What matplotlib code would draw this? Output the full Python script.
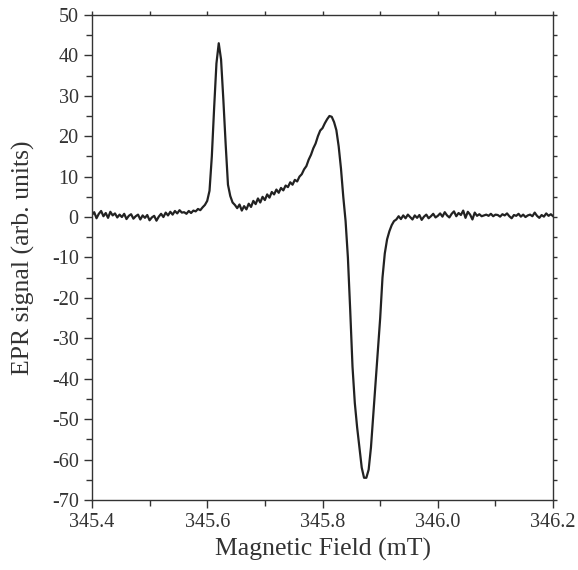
import matplotlib
matplotlib.use("Agg")
import matplotlib.pyplot as plt
from matplotlib.ticker import MultipleLocator, FormatStrFormatter
import numpy as np

# field grid (mT), 0.004 mT step from 345.4 to 346.2
field_start = 345.4
field_step = 0.004

# EPR signal, one value per grid step
signal = [
    0.5, 1.2, -0.3, 0.8, 1.5, 0.2, 1.0, -0.2, 1.3, 0.4,
    0.9, -0.1, 0.6, 0.0, 0.8, -0.5, 0.3, 0.7, -0.4, 0.2,
    0.6, -0.6, 0.4, -0.2, 0.5, -0.8, -0.1, 0.3, -0.9, 0.1,
    0.8, 0.0, 1.1, 0.4, 1.3, 0.6, 1.5, 0.9, 1.7, 1.1,
    1.2, 0.8, 1.5, 1.0, 1.6, 1.4, 2.0, 1.7, 2.4, 3.0,
    4.0, 6.5, 15.0, 27.0, 38.0, 43.0, 39.0, 29.0, 18.0, 8.0,
    5.2, 3.6, 3.0, 2.2, 3.1, 1.6, 2.7, 1.9, 3.3, 2.5,
    4.0, 3.2, 4.6, 3.6, 5.0, 4.2, 5.6, 4.8, 6.2, 5.6,
    6.8, 6.0, 7.2, 6.6, 7.8, 7.4, 8.6, 8.0, 9.2, 8.8,
    10.0, 10.6, 11.8, 12.6, 14.2, 15.4, 17.0, 18.2, 20.0, 21.4,
    22.0, 23.2, 24.2, 25.0, 24.8, 23.5, 21.5, 17.5, 12.0, 5.0,
    -1.0, -10.0, -23.0, -37.0, -46.0, -52.0, -57.0, -62.0, -64.5, -64.5,
    -62.5, -57.0, -49.0, -41.0, -33.0, -25.0, -15.0, -9.0, -5.5, -3.5,
    -2.0, -1.0, -0.6, 0.2, -0.5, 0.4, -0.3, 0.6, 0.0, -0.6,
    0.4, -0.2, 0.5, -0.7, 0.1, 0.6, -0.3, 0.2, 0.8, -0.1,
    0.3, 0.9, 0.1, 1.2, 0.4, -0.1, 0.8, 1.4, 0.2, 1.0,
    0.5, 1.6, -0.2, 1.3, 0.6, -0.6, 1.1, 0.3, 0.7, 0.2,
    0.4, 0.6, 0.3, 0.8, 0.2, 0.6, 0.5, 0.1, 0.7, 0.4,
    0.9, 0.2, -0.3, 0.5, 0.3, 0.8, 0.1, 0.6, 0.0, 0.4,
    0.6, 0.2, 1.1, 0.3, -0.2, 0.5, 0.1, 0.9, 0.3, 0.7, 0.2,
]
field = field_start + field_step * np.arange(len(signal))

plt.rcParams['font.family'] = ['Liberation Serif', 'DejaVu Serif']
plt.rcParams['axes.unicode_minus'] = False

fig = plt.figure(figsize=(5.78, 5.70), dpi=100)
ax = fig.add_axes([0.159, 0.1228, 0.798, 0.851])

ax.plot(field, signal, color="#222222", lw=1.6)

ax.set_xlim(345.4, 346.2)
ax.set_ylim(-70, 50)
ax.xaxis.set_major_locator(MultipleLocator(0.2))
ax.xaxis.set_minor_locator(MultipleLocator(0.1))
ax.xaxis.set_major_formatter(FormatStrFormatter('%.1f'))
ax.yaxis.set_major_locator(MultipleLocator(10))
ax.yaxis.set_minor_locator(MultipleLocator(5))

# left/bottom ticks outward, top/right only small marks on the frame
ax.tick_params(which='both', direction='out', color='#333333',
               labelcolor='#333333', labelsize=14.5, width=1.0)
ax.tick_params(which='major', length=6)
ax.tick_params(which='minor', length=4)
ax.tick_params(which='both', top=True, right=True)
ax.tick_params(which='both', axis='x', labeltop=False)
ax.tick_params(which='both', axis='y', labelright=False)
for t in ax.xaxis.get_major_ticks() + ax.xaxis.get_minor_ticks():
    t.tick2line.set_markersize(3)
for t in ax.yaxis.get_major_ticks() + ax.yaxis.get_minor_ticks():
    t.tick2line.set_markersize(3)
for s in ax.spines.values():
    s.set_color('#333333')
    s.set_linewidth(1.0)

ax.set_xlabel("Magnetic Field (mT)", fontsize=18.5, color='#333333', labelpad=4)
ax.set_ylabel("EPR signal (arb. units)", fontsize=18.5, color='#333333', labelpad=12)

fig.savefig("out.png", dpi=100)
